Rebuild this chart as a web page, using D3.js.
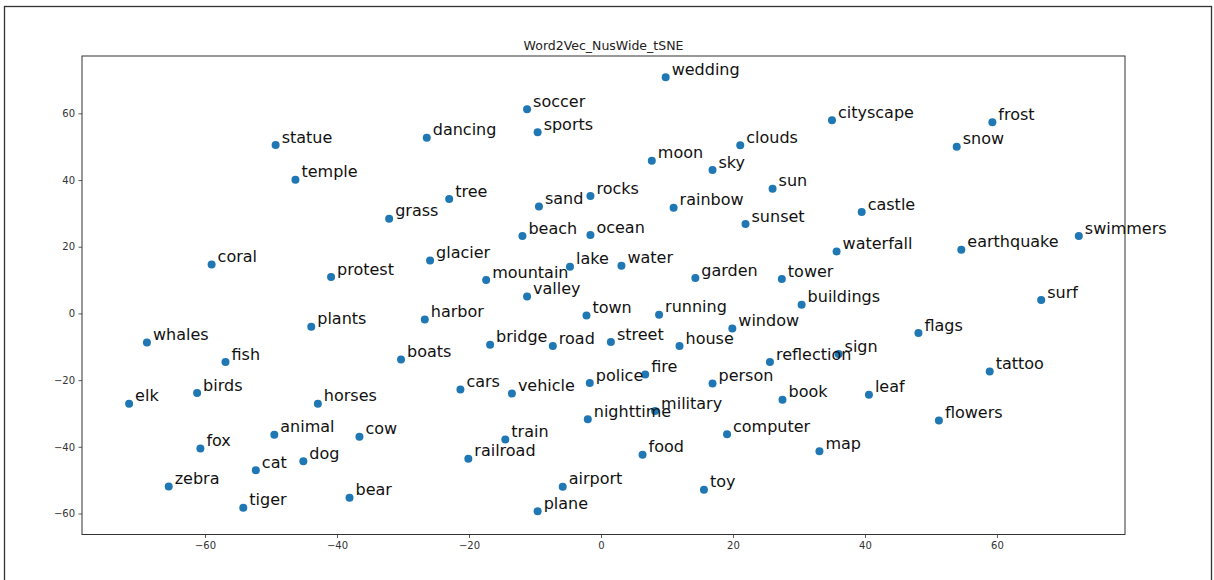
<!DOCTYPE html>
<html>
<head>
<meta charset="utf-8">
<script src="https://cdn.jsdelivr.net/npm/d3@7"></script>
<style>
	body { margin: 0; background: #fff; }
	svg text { font-family: "DejaVu Sans", sans-serif; }
</style>
</head>
<body>
<svg id="viz" width="1214" height="580"></svg>
<script>
const title = 'Word2Vec_NusWide_tSNE';

const words = [
	'wedding', 'soccer', 'sports', 'dancing', 'clouds', 'moon', 'sky', 'tree', 'rocks', 'sand',
	'rainbow', 'grass', 'sun', 'sunset', 'beach', 'ocean', 'glacier', 'lake', 'water', 'mountain',
	'garden', 'valley', 'cityscape', 'frost', 'snow', 'castle', 'earthquake', 'swimmers', 'waterfall', 'tower',
	'surf', 'buildings', 'flags', 'sign', 'reflection', 'tattoo', 'book', 'leaf', 'flowers', 'map',
	'harbor', 'town', 'running', 'window', 'bridge', 'road', 'street', 'house', 'boats', 'fire',
	'police', 'person', 'cars', 'vehicle', 'military', 'nighttime', 'computer', 'train', 'food', 'railroad',
	'airport', 'toy', 'plane', 'statue', 'temple', 'coral', 'protest', 'plants', 'whales', 'fish',
	'birds', 'elk', 'horses', 'animal', 'cow', 'fox', 'dog', 'cat', 'zebra', 'bear', 'tiger'
];

const xs = [
	9.8, -11.2, -9.6, -26.4, 21.1, 7.7, 16.9, -23.0, -1.6, -9.4,
	11.0, -32.1, 26.0, 21.9, -11.9, -1.6, -25.9, -4.7, 3.1, -17.4,
	14.3, -11.2, 35.0, 59.3, 53.9, 39.5, 54.6, 72.4, 35.7, 27.4,
	66.7, 30.4, 48.1, 36.0, 25.6, 58.9, 27.5, 40.6, 51.2, 33.1,
	-26.7, -2.2, 8.8, 19.9, -16.8, -7.3, 1.5, 11.9, -30.3, 6.7,
	-1.7, 16.9, -21.3, -13.5, 8.2, -2.0, 19.1, -14.5, 6.3, -20.1,
	-5.8, 15.6, -9.6, -49.3, -46.3, -59.0, -40.9, -43.9, -68.8, -56.9,
	-61.2, -71.5, -42.9, -49.5, -36.6, -60.7, -45.1, -52.3, -65.5, -38.1, -54.2
];

const ys = [
	70.8, 61.2, 54.3, 52.7, 50.4, 45.8, 43.0, 34.3, 35.2, 32.1,
	31.7, 28.4, 37.4, 26.8, 23.2, 23.5, 15.9, 14.0, 14.3, 10.0,
	10.6, 5.1, 57.9, 57.3, 50.0, 30.4, 19.1, 23.2, 18.6, 10.3,
	4.0, 2.6, -5.9, -12.2, -14.6, -17.4, -25.9, -24.4, -32.1, -41.3,
	-1.8, -0.6, -0.4, -4.5, -9.4, -9.8, -8.6, -9.8, -13.8, -18.3,
	-20.9, -21.0, -22.8, -24.0, -29.3, -31.7, -36.2, -37.8, -42.4, -43.6,
	-52.0, -52.9, -59.3, 50.5, 40.1, 14.7, 10.9, -4.0, -8.7, -14.6,
	-23.9, -27.1, -27.1, -36.4, -37.0, -40.5, -44.3, -47.0, -51.9, -55.3, -58.3
];

const xTicks = [-60, -40, -20, 0, 20, 40, 60];
const yTicks = [-60, -40, -20, 0, 20, 40, 60];

const margin = { left: 82, right: 1125, top: 56, bottom: 534.5 };
const svg = d3.select('#viz');

// outer frame of the screenshot
svg.append('rect')
	.attr('x', 4.5).attr('y', 6.5)
	.attr('width', 1207).attr('height', 620)
	.attr('fill', 'none')
	.attr('stroke', '#333')
	.attr('stroke-width', 1.3);

const x = d3.scaleLinear().domain([-78.64, 79.4]).range([margin.left, margin.right]);
const y = d3.scaleLinear().domain([-66.3, 77.2]).range([margin.bottom, margin.top]);

const fmt = d => (d < 0 ? '\u2212' + Math.abs(d) : String(d));

const xAxis = svg.append('g')
	.attr('transform', `translate(0,${margin.bottom})`)
	.call(d3.axisBottom(x).tickValues(xTicks).tickFormat(fmt).tickSize(3.5).tickPadding(3.5));
const yAxis = svg.append('g')
	.attr('transform', `translate(${margin.left},0)`)
	.call(d3.axisLeft(y).tickValues(yTicks).tickFormat(fmt).tickSize(3.5).tickPadding(3.5));

[xAxis, yAxis].forEach(g => {
	g.select('.domain').remove();
	g.selectAll('line').attr('stroke', '#333').attr('stroke-width', 0.8);
	g.selectAll('text')
		.attr('fill', '#333')
		.style('font-size', '10px')
		.style('font-family', '"DejaVu Sans", sans-serif');
});

svg.append('rect')
	.attr('x', margin.left).attr('y', margin.top)
	.attr('width', margin.right - margin.left)
	.attr('height', margin.bottom - margin.top)
	.attr('fill', 'none')
	.attr('stroke', '#333')
	.attr('stroke-width', 1);

svg.append('text')
	.attr('x', (margin.left + margin.right) / 2)
	.attr('y', 50)
	.attr('text-anchor', 'middle')
	.style('font-size', '12.5px')
	.attr('fill', '#222')
	.text(title);

const pts = words.map((w, i) => ({ w: w, x: xs[i], y: ys[i] }));

svg.append('g').classed('points', true)
	.selectAll('circle')
	.data(pts)
	.enter()
		.append('circle')
		.attr('cx', d => x(d.x))
		.attr('cy', d => y(d.y))
		.attr('r', 4)
		.attr('fill', '#1f77b4');

svg.append('g').classed('labels', true)
	.selectAll('text')
	.data(pts)
	.enter()
		.append('text')
		.attr('x', d => x(d.x) + 6)
		.attr('y', d => y(d.y) - 2.5)
		.style('font-size', '16px')
		.attr('fill', '#111')
		.text(d => d.w);
</script>
</body>
</html>
